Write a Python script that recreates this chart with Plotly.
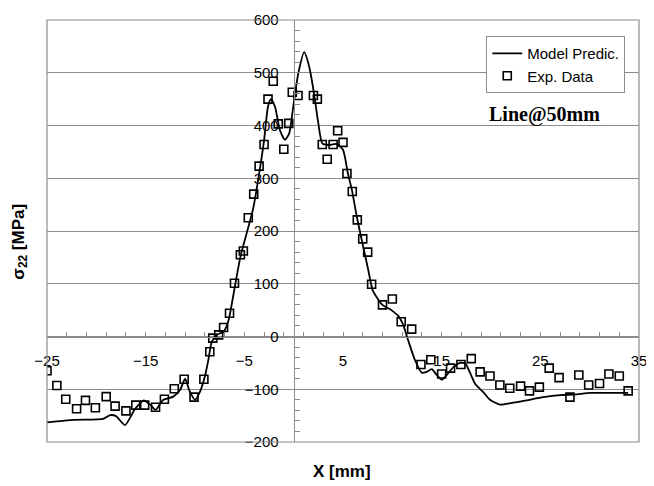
import plotly.graph_objects as go

# Model prediction curve
model_x = [-25, -22.3, -19.3, -18.6, -18.0, -17.1, -16.1, -15.2, -14.5, -14.0, -13.2, -12.2, -11.5, -11.0,
           -10.6, -10.0, -9.5, -9.0, -8.65, -8.3, -7.8, -7.1, -6.6, -5.9, -5.4, -4.76, -4.1, -3.6, -3.0,
           -2.6, -2.3, -1.9, -1.39, -0.88, -0.45, -0.04, 0.47, 1.07, 1.58, 2.06, 2.5, 2.9, 3.5, 4.36, 5.0,
           5.5, 5.9, 6.4, 7.05, 7.56, 8.0, 8.4, 9.0, 9.9, 10.6, 11.1, 11.6, 12.3, 13.0, 13.5, 14.0, 14.5,
           15.0, 15.5, 16.2, 16.85, 17.4, 17.9, 18.4, 19.2, 19.9, 20.9, 22.1, 23.6, 25.3, 27.0, 28.4, 30.1,
           32.1, 33.9]
model_y = [-163, -158, -156, -149, -151, -168, -138, -121, -130, -139, -120, -114, -101, -80,
           -101, -120, -105, -76, -45, -10, 3, 9, 31, 101, 151, 196, 243, 297, 372,
           436, 450, 436, 391, 373, 385, 436, 499, 539, 511, 461, 404, 366, 363, 365, 354,
           309, 278, 227, 170, 126, 88, 75, 60, 50, 39, 22, -7, -45, -69, -67, -62, -73,
           -82, -73, -58, -50, -51, -70, -90, -105, -120, -129, -126, -121, -115, -111, -110, -107,
           -107, -107]

# Experimental data
exp_x = [-25, -24, -23.1, -22, -21.1, -20.1, -19, -18.1, -17, -16, -15.1, -14, -13.1, -12.1, -11.1,
         -10.1, -9.1, -8.5, -8.2, -7.6, -7.1, -6.5, -6.0, -5.4, -5.1, -4.6, -4.05, -3.5, -3.0, -2.6,
         -2.07, -1.56, -1.0, -0.5, -0.14, 0.44, 2.0, 2.4, 2.9, 3.4, 4.0, 4.46, 5.0, 5.4, 5.94,
         6.45, 7.0, 7.5, 7.9, 9.0, 10.0, 10.9, 11.96, 12.9, 13.9, 15.0, 15.9, 16.95, 18.0, 18.9,
         19.9, 20.9, 21.9, 23.0, 23.9, 24.9, 25.9, 26.9, 28.0, 28.9, 29.9, 31.0, 31.95, 33.0, 33.9]
exp_y = [-65, -93, -119, -137, -121, -135, -114, -132, -141, -130, -130, -134, -119, -99, -81,
         -115, -81, -29, -3, 3, 17, 44, 101, 155, 162, 225, 270, 323, 364, 450,
         484, 403, 355, 404, 463, 457, 457, 450, 364, 336, 364, 390, 368, 309, 275,
         221, 185, 160, 99, 60, 71, 28, 14, -53, -44, -71, -60, -53, -42, -67,
         -75, -92, -98, -94, -103, -96, -60, -78, -115, -73, -92, -89, -71, -75, -103]

x_tick0 = -25
GRAY = "#8c8c8c"
FONT = "Liberation Sans, Arial, sans-serif"

fig = go.Figure()
fig.add_trace(go.Scatter(x=model_x, y=model_y, mode="lines", name="Model Predic.",
                         line=dict(color="black", width=1.8, shape="spline", smoothing=0.6)))
fig.add_trace(go.Scatter(x=exp_x, y=exp_y, mode="markers", name="Exp. Data",
                         marker=dict(symbol="square-open", size=8, color="black",
                                     line=dict(width=1.6, color="black"))))

fig.update_layout(
    width=646, height=478,
    margin=dict(l=39, r=15, t=12, b=44),
    paper_bgcolor="white", plot_bgcolor="white",
    font=dict(family=FONT, size=15, color="black"),
    legend=dict(x=0.742, y=0.962, xanchor="left", yanchor="top",
                bgcolor="white", bordercolor=GRAY, borderwidth=1,
                font=dict(family=FONT, size=15), tracegroupgap=0),
    xaxis=dict(range=[-25, 35], anchor="free", position=0.25,
               tick0=x_tick0, dtick=10, ticks="inside", ticklen=5, tickcolor=GRAY,
               showline=True, linecolor=GRAY, linewidth=1, showgrid=False, zeroline=False,
               ticklabelstandoff=10, automargin=False, ticklabeloverflow="allow",
               minor=dict(tick0=x_tick0, dtick=2, ticks="inside", ticklen=5, tickcolor=GRAY,
                          showgrid=False),
               tickfont=dict(family=FONT, size=15)),
    yaxis=dict(range=[-200, 600], anchor="free", position=25 / 60,
               dtick=100, ticks="inside", ticklen=5, tickcolor=GRAY,
               showline=True, linecolor=GRAY, linewidth=1,
               showgrid=True, gridcolor=GRAY, gridwidth=1, zeroline=False,
               ticklabelstandoff=12, automargin=False, ticklabeloverflow="allow",
               minor=dict(dtick=20, ticks="inside", ticklen=5, tickcolor=GRAY, showgrid=False),
               tickfont=dict(family=FONT, size=15)),
    shapes=[dict(type="rect", xref="paper", yref="paper", x0=0, x1=1, y0=0, y1=1,
                 line=dict(color=GRAY, width=1.2), layer="above")],
    annotations=[
        dict(text="<b>X [mm]</b>", xref="paper", yref="paper", x=0.498, y=-0.071,
             xanchor="center", yanchor="middle",
             showarrow=False, font=dict(family=FONT, size=17)),
        dict(text="<b>σ<sub>22</sub> [MPa]</b>", xref="paper", yref="paper", x=-0.047, y=0.475,
             xanchor="center", yanchor="middle",
             textangle=-90, showarrow=False, font=dict(family=FONT, size=17)),
        dict(text="<b>Line@50mm</b>", xref="paper", yref="paper", x=0.841, y=0.775,
             xanchor="center", yanchor="middle", showarrow=False,
             font=dict(family="Liberation Serif, Times New Roman, serif", size=20)),
    ],
)

fig.write_html("out.html")
